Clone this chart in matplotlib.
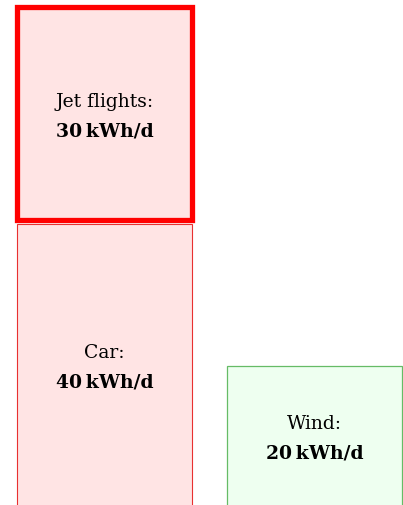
import matplotlib
matplotlib.use("Agg")
import matplotlib.pyplot as plt
from matplotlib.patches import Rectangle

# data
categories = ["Car", "Jet flights", "Wind"]
values = [40, 30, 20]          # kWh/d
stack = [0, 0, 1]              # column index
units = "kWh/d"

fills = ["#ffe4e4", "#ffe4e4", "#eefff0"]
edges = ["#e83030", "#ff0000", "#66bb66"]
lws = [0.8, 3.8, 0.9]

fig = plt.figure(figsize=(4.03, 5.06), dpi=100)
ax = fig.add_axes([0, 0, 1, 1])
ax.set_xlim(0, 403)
ax.set_ylim(0.38, 71.75)
ax.axis("off")

col_left = [17, 227]
col_width = 175
gap = 0.58
bases = [0.0, 0.0]
for cat, v, col, fc, ec, lw in zip(categories, values, stack, fills, edges, lws):
    b = bases[col]
    if b > 0:
        b += gap
    r = Rectangle((col_left[col], b), col_width, v, facecolor=fc, edgecolor=ec,
                  linewidth=lw, clip_on=True)
    ax.add_patch(r)
    cx = col_left[col] + col_width / 2
    lo = max(b, 0.38)
    cy = (lo + b + v) / 2
    ax.text(cx, cy + 2.1, f"{cat}:", ha="center", va="center_baseline",
            fontsize=13.5, family="DejaVu Serif", color="black")
    ax.text(cx, cy - 2.1, f"{v}\u2009{units}", ha="center", va="center_baseline",
            fontsize=13.5, family="DejaVu Serif", fontweight="bold", color="black")
    bases[col] = b + v

fig.savefig("out.png", dpi=100)
